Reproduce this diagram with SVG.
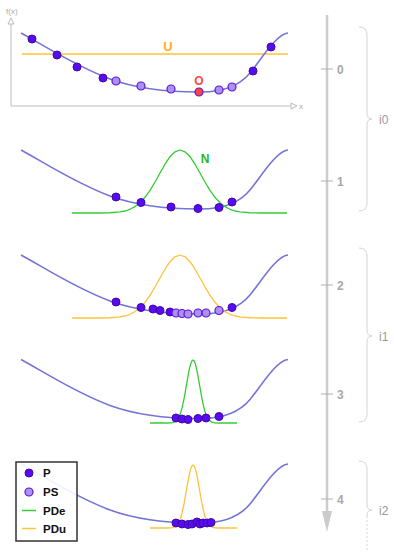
<svg xmlns="http://www.w3.org/2000/svg" xmlns:xlink="http://www.w3.org/1999/xlink" width="394" height="552" viewBox="0 0 394 552">
<style>
text{font-family:"Liberation Sans",Arial,sans-serif}
.fx{fill:none;stroke:#7474d8;stroke-width:1.6}
.ax{stroke:#bbb;stroke-width:1;fill:none}
.axh{fill:#fff;stroke:#bbb;stroke-width:1}
.axl{font-size:8px;fill:#aaa}
.p{fill:#5a0af0;stroke:#3c0aa8;stroke-width:1}
.ps{fill:#ac90f0;stroke:#5a16d8;stroke-width:1.2}
.o{fill:#ff4444;stroke:#5a16d8;stroke-width:1.2}
.pde{fill:none;stroke:#33cc33;stroke-width:1.3;stroke-linejoin:round}
.pdu{fill:none;stroke:#ffc23a;stroke-width:1.3;stroke-linejoin:round}
.tl{stroke:#cccccc;stroke-width:2.5}
.tk{stroke:#b0b0b0;stroke-width:1}
.tkl{font-size:12px;font-weight:bold;fill:#a8a8a8}
.br{fill:none;stroke:#d4d4d4;stroke-width:1}
.brl{font-size:12px;fill:#999}
.lg{font-size:11.5px;font-weight:bold;fill:#111}
</style>
<defs>
<path id="fxp" d="M21,0 C45,13 75,33 110,46 C140,57 175,59 199,59 C225,59.5 240,52 250,40 C260,28 276,1 288,0"/>
<path id="gw" d="M72,213 L100,213 L110,212.75 L120,211.9 L125,211 L130,209.3 L135,206.6 L140,202.7 L145,197.3 L150,190.3 L155,182 L160,173 L165,164.2 L170,156.7 L175,151.8 L180,150 L185,151.8 L190,156.7 L195,164.2 L200,173 L205,182 L210,190.3 L215,197.3 L220,202.7 L225,206.6 L230,209.3 L235,211 L240,211.9 L250,212.75 L260,213 L287,213"/>
<path id="gn" d="M150,423 L167,423 L171,422.8 L174,422.1 L176,420.9 L178,418.6 L180,414.5 L181,411.5 L182,408 L183,403.7 L184,398.9 L185,393.5 L186,387.7 L187,381.9 L188,376.1 L189,370.9 L190,366.4 L191,362.9 L192,360.7 L193,360 L194,360.7 L195,362.9 L196,366.4 L197,370.9 L198,376.1 L199,381.9 L200,387.7 L201,393.5 L202,398.9 L203,403.7 L204,408 L205,411.5 L206,414.5 L208,418.6 L210,420.9 L212,422.1 L215,422.8 L219,423 L237,423"/>
</defs>

<g id="timeline">
<line class="tl" x1="327" y1="15" x2="327" y2="512"/>
<polygon points="322,511 332,511 327,532" fill="#cccccc"/>
<line class="tk" x1="321" y1="69" x2="333" y2="69"/>
<line class="tk" x1="321" y1="181" x2="333" y2="181"/>
<line class="tk" x1="321" y1="285" x2="333" y2="285"/>
<line class="tk" x1="321" y1="394" x2="333" y2="394"/>
<line class="tk" x1="321" y1="499" x2="333" y2="499"/>
<text class="tkl" x="337" y="73.5">0</text>
<text class="tkl" x="337" y="185.5">1</text>
<text class="tkl" x="337" y="289.5">2</text>
<text class="tkl" x="337" y="398.5">3</text>
<text class="tkl" x="337" y="503.5">4</text>
</g>

<g id="brace-i0">
<path class="br" d="M359,27 Q367,27 367,35 L367,113 Q367,119 372,119 Q367,119 367,125 L367,203 Q367,211 359,211"/>
<text class="brl" x="379" y="124">i0</text>
</g>
<g id="brace-i1">
<path class="br" d="M359,248 Q367,248 367,256 L367,330 Q367,336 372,336 Q367,336 367,342 L367,414 Q367,422 359,422"/>
<text class="brl" x="379" y="341">i1</text>
</g>
<g id="brace-i2">
<path class="br" d="M359,461 Q367,461 367,469 L367,504 Q367,510 372,510 Q367,510 367,516"/>
<line class="br" x1="367" y1="516" x2="367" y2="552" stroke-dasharray="2,2"/>
<text class="brl" x="379" y="515">i2</text>
</g>

<g id="panel0">
<line class="ax" x1="11" y1="24" x2="11" y2="106"/>
<line class="ax" x1="11" y1="106" x2="291" y2="106"/>
<polygon class="axh" points="11,18 8,24 14,24"/>
<polygon class="axh" points="297,106 291,103 291,109"/>
<text class="axl" x="6" y="14">f(x)</text>
<text class="axl" x="299" y="109">x</text>
<line x1="22" y1="54" x2="288" y2="54" stroke="#ffc23a" stroke-width="1.5"/>
<text x="168" y="51" text-anchor="middle" font-size="13" font-weight="bold" fill="#ffb020">U</text>
<use href="#fxp" class="fx" transform="translate(0,33)"/>
<circle class="p" cx="32" cy="39" r="4"/>
<circle class="p" cx="57" cy="55" r="4"/>
<circle class="p" cx="77" cy="67" r="4"/>
<circle class="p" cx="103" cy="78" r="4"/>
<circle class="ps" cx="116" cy="81" r="4"/>
<circle class="ps" cx="141" cy="86" r="4"/>
<circle class="ps" cx="171" cy="89" r="4"/>
<circle class="o" cx="199" cy="92" r="4"/>
<circle class="ps" cx="219" cy="90" r="4"/>
<circle class="ps" cx="232" cy="87" r="4"/>
<circle class="p" cx="253" cy="71" r="4"/>
<circle class="p" cx="271" cy="47" r="4"/>
<text x="199" y="85" text-anchor="middle" font-size="12" font-weight="bold" fill="#ff4444">O</text>
</g>

<g id="panel1">
<use href="#fxp" class="fx" transform="translate(0,150)"/>
<use href="#gw" class="pde"/>
<text x="205" y="163" text-anchor="middle" font-size="12" font-weight="bold" fill="#22bb22">N</text>
<circle class="p" cx="116" cy="197" r="4"/>
<circle class="p" cx="141" cy="202.5" r="4"/>
<circle class="p" cx="171" cy="207" r="4"/>
<circle class="p" cx="198" cy="208.5" r="4"/>
<circle class="p" cx="219" cy="207.5" r="4"/>
<circle class="p" cx="232" cy="202" r="4"/>
</g>

<g id="panel2">
<use href="#fxp" class="fx" transform="translate(0,255)"/>
<use href="#gw" class="pdu" transform="translate(0,105)"/>
<circle class="p" cx="116" cy="302" r="4"/>
<circle class="p" cx="141" cy="307.5" r="4"/>
<circle class="p" cx="153" cy="309" r="4"/>
<circle class="p" cx="160" cy="310.5" r="4"/>
<circle class="p" cx="170" cy="312" r="4"/>
<circle class="ps" cx="176" cy="313" r="4"/>
<circle class="ps" cx="182" cy="313.5" r="4"/>
<circle class="ps" cx="188" cy="314" r="4"/>
<circle class="ps" cx="198" cy="313" r="4"/>
<circle class="ps" cx="206" cy="313" r="4"/>
<circle class="ps" cx="219" cy="310.5" r="4"/>
<circle class="p" cx="232" cy="307.5" r="4"/>
</g>

<g id="panel3">
<use href="#fxp" class="fx" transform="translate(0,359.5)"/>
<use href="#gn" class="pde"/>
<circle class="p" cx="176" cy="418" r="4"/>
<circle class="p" cx="182" cy="419" r="4"/>
<circle class="p" cx="188" cy="419.5" r="4"/>
<circle class="p" cx="198" cy="418.5" r="4"/>
<circle class="p" cx="206" cy="418" r="4"/>
<circle class="p" cx="219" cy="416.5" r="4"/>
</g>

<g id="panel4">
<use href="#fxp" class="fx" transform="translate(0,464)"/>
<use href="#gn" class="pdu" transform="translate(0,105)"/>
<circle class="p" cx="176" cy="523" r="4"/>
<circle class="p" cx="182" cy="524" r="4"/>
<circle class="p" cx="188" cy="524.5" r="4"/>
<circle class="p" cx="192" cy="524" r="4"/>
<circle class="p" cx="197" cy="522" r="4"/>
<circle class="p" cx="200" cy="524" r="4"/>
<circle class="p" cx="203" cy="523" r="4"/>
<circle class="p" cx="207" cy="523" r="4"/>
<circle class="p" cx="211" cy="522.5" r="4"/>
</g>

<g id="legend">
<rect x="16" y="462" width="61" height="79" fill="#ffffff" fill-opacity="0.9" stroke="#333" stroke-width="1.5"/>
<circle class="p" cx="29" cy="473" r="4"/>
<circle class="ps" cx="29" cy="492" r="4"/>
<line x1="22" y1="510.5" x2="36" y2="510.5" stroke="#33cc33" stroke-width="1.5"/>
<line x1="22" y1="528.5" x2="36" y2="528.5" stroke="#ffc23a" stroke-width="1.5"/>
<text class="lg" x="43" y="477">P</text>
<text class="lg" x="43" y="496">PS</text>
<text class="lg" x="43" y="514.5">PDe</text>
<text class="lg" x="43" y="532.5">PDu</text>
</g>
</svg>
